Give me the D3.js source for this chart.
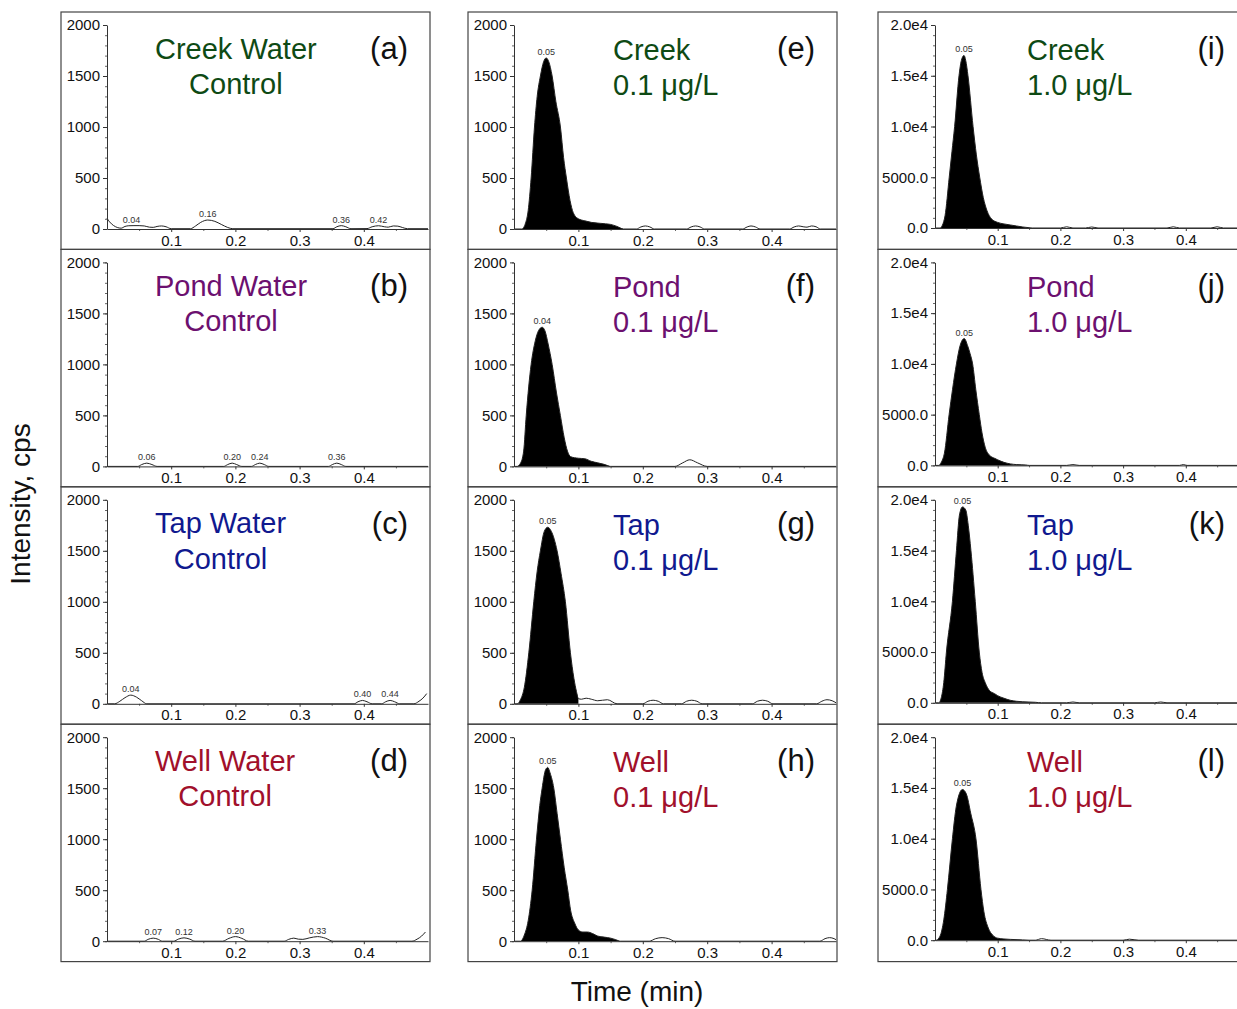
<!DOCTYPE html>
<html>
<head>
<meta charset="utf-8">
<script src="https://cdn.jsdelivr.net/npm/d3@7"></script>
<style>
body { margin: 0; background: #fff; }
text { font-family: Arial, "Liberation Sans", sans-serif; }
</style>
</head>
<body>
<svg id="chrom"></svg>
<script>
// chromatogram traces: [time (min), intensity (cps)]
const creekControl = [[0,105],[0.004,70],[0.01,35],[0.016,15],[0.022,8],[0.028,25],[0.034,32],[0.042,33],[0.05,33],[0.058,30],[0.066,18],[0.072,16],[0.078,25],[0.085,30],[0.092,22],[0.1,3],[0.13,3],[0.138,30],[0.146,65],[0.157,88],[0.168,75],[0.178,45],[0.188,15],[0.196,3],[0.352,3],[0.358,22],[0.365,33],[0.372,22],[0.38,3],[0.405,4],[0.413,22],[0.423,32],[0.432,22],[0.438,18],[0.446,30],[0.453,28],[0.46,15],[0.468,3],[0.5,3]];
const pondControl = [[0,0],[0.048,0],[0.054,18],[0.062,32],[0.07,18],[0.078,0],[0.182,0],[0.188,18],[0.195,32],[0.202,18],[0.21,0],[0.225,0],[0.231,18],[0.238,32],[0.245,18],[0.252,0],[0.345,0],[0.351,18],[0.358,32],[0.365,18],[0.372,0],[0.5,0]];
const tapControl = [[0,0],[0.012,0],[0.02,25],[0.028,60],[0.037,85],[0.046,65],[0.054,30],[0.062,0],[0.385,0],[0.391,20],[0.398,33],[0.405,20],[0.413,0],[0.428,0],[0.434,20],[0.441,33],[0.448,20],[0.456,0],[0.478,0],[0.486,25],[0.492,55],[0.498,100]];
const wellControl = [[0,0],[0.058,0],[0.064,18],[0.072,30],[0.08,18],[0.086,0],[0.104,0],[0.111,20],[0.12,33],[0.129,20],[0.137,0],[0.18,0],[0.19,28],[0.2,45],[0.21,28],[0.22,0],[0.276,0],[0.283,18],[0.291,30],[0.298,20],[0.305,18],[0.315,32],[0.328,45],[0.34,30],[0.352,0],[0.475,0],[0.483,20],[0.49,50],[0.496,90]];

const creekLow = [[0,0],[0.012,0],[0.018,60],[0.022,180],[0.0266,500],[0.0318,1000],[0.036,1300],[0.041,1500],[0.046,1640],[0.05,1677],[0.054,1640],[0.0592,1500],[0.065,1250],[0.0721,1000],[0.077,700],[0.0814,500],[0.087,280],[0.092,160],[0.1,100],[0.11,80],[0.12,65],[0.135,55],[0.15,45],[0.16,25],[0.17,0],[0.19,0],[0.197,20],[0.204,30],[0.211,20],[0.218,0],[0.268,0],[0.275,20],[0.282,30],[0.289,20],[0.296,0],[0.355,0],[0.362,20],[0.368,30],[0.375,20],[0.382,0],[0.428,0],[0.435,20],[0.442,30],[0.449,22],[0.455,18],[0.462,30],[0.469,22],[0.476,0],[0.5,0]];
const pondLow = [[0,0],[0.005,0],[0.01,30],[0.015,150],[0.019,500],[0.0266,1000],[0.033,1230],[0.038,1330],[0.0437,1364],[0.048,1330],[0.053,1200],[0.0592,1000],[0.066,720],[0.072,500],[0.078,280],[0.083,150],[0.088,95],[0.1,80],[0.11,75],[0.12,50],[0.13,35],[0.14,20],[0.15,0],[0.25,0],[0.262,35],[0.273,65],[0.285,35],[0.3,0],[0.5,0]];
const tapLow = [[0,0],[0.005,0],[0.01,40],[0.016,160],[0.023,500],[0.0307,1000],[0.036,1300],[0.041,1500],[0.047,1690],[0.0524,1731],[0.058,1690],[0.0669,1500],[0.073,1280],[0.0798,1000],[0.0876,500],[0.093,250],[0.097,120],[0.1,50],[0.105,45],[0.112,55],[0.12,45],[0.13,30],[0.145,40],[0.16,0],[0.2,0],[0.208,25],[0.216,35],[0.224,25],[0.232,0],[0.26,0],[0.268,25],[0.276,35],[0.284,25],[0.292,0],[0.37,0],[0.378,25],[0.386,35],[0.394,25],[0.402,0],[0.47,0],[0.478,25],[0.486,40],[0.494,30],[0.5,10]];
const wellLow = [[0,0],[0.01,0],[0.016,60],[0.022,200],[0.0282,500],[0.0349,1000],[0.04,1330],[0.0437,1500],[0.049,1680],[0.0524,1704],[0.056,1650],[0.0618,1500],[0.067,1250],[0.0721,1000],[0.078,720],[0.0835,500],[0.088,300],[0.094,180],[0.1,110],[0.107,90],[0.114,90],[0.122,75],[0.13,50],[0.14,40],[0.15,30],[0.158,15],[0.165,0],[0.21,0],[0.22,25],[0.23,35],[0.24,25],[0.25,0],[0.475,0],[0.483,25],[0.49,35],[0.497,25],[0.5,15]];

const creekHigh = [[0,0],[0.008,0],[0.012,300],[0.016,1200],[0.0227,5000],[0.027,7500],[0.0313,10000],[0.0383,15000],[0.042,16500],[0.0463,17000],[0.049,16500],[0.0526,15000],[0.0607,10000],[0.066,7200],[0.0713,5000],[0.077,3000],[0.083,1700],[0.09,900],[0.1,550],[0.11,400],[0.12,300],[0.13,200],[0.14,100],[0.15,30],[0.155,0],[0.2,0],[0.21,120],[0.22,0],[0.24,0],[0.25,100],[0.26,0],[0.37,0],[0.38,120],[0.39,0],[0.44,0],[0.45,120],[0.46,0],[0.5,0]];
const pondHigh = [[0,0],[0.006,0],[0.01,300],[0.015,1200],[0.0225,5000],[0.028,7500],[0.0342,10000],[0.04,11800],[0.0466,12500],[0.052,11800],[0.056,11000],[0.06,10000],[0.065,7500],[0.0706,5000],[0.075,3200],[0.08,1800],[0.087,1000],[0.095,700],[0.1,550],[0.11,300],[0.12,150],[0.13,80],[0.145,40],[0.15,0],[0.21,0],[0.22,80],[0.23,0],[0.39,0],[0.396,80],[0.402,0],[0.5,0]];
const tapHigh = [[0,0],[0.006,0],[0.01,500],[0.014,2000],[0.0182,5000],[0.0278,10000],[0.0342,15000],[0.039,18500],[0.0438,19300],[0.049,19000],[0.053,17500],[0.0573,15000],[0.0642,10000],[0.0706,5000],[0.075,3000],[0.08,2000],[0.087,1200],[0.095,900],[0.1,700],[0.11,450],[0.12,250],[0.13,150],[0.14,100],[0.16,50],[0.17,0],[0.21,0],[0.22,80],[0.23,0],[0.35,0],[0.36,80],[0.37,0],[0.5,0]];
const wellHigh = [[0,0],[0.002,0],[0.008,400],[0.014,2000],[0.0198,5000],[0.0278,10000],[0.034,13200],[0.0438,14850],[0.05,14400],[0.057,12500],[0.0653,10000],[0.0733,5000],[0.078,2800],[0.085,1200],[0.092,500],[0.1,200],[0.11,120],[0.12,80],[0.14,30],[0.15,0],[0.16,0],[0.17,150],[0.185,0],[0.3,0],[0.31,100],[0.325,0],[0.5,0]];

// retention-time labels printed above the peaks: [time, label]
const creekControlPeaks = [[0.038,'0.04'],[0.157,'0.16'],[0.365,'0.36'],[0.423,'0.42']];
const pondControlPeaks = [[0.062,'0.06'],[0.195,'0.20'],[0.238,'0.24'],[0.358,'0.36']];
const tapControlPeaks = [[0.037,'0.04'],[0.398,'0.40'],[0.441,'0.44']];
const wellControlPeaks = [[0.072,'0.07'],[0.12,'0.12'],[0.2,'0.20'],[0.328,'0.33']];
const lowPeaks = [[[0.05,'0.05']], [[0.0437,'0.04']], [[0.0524,'0.05']], [[0.0524,'0.05']]];
const highPeaks = [[[0.0463,'0.05']], [[0.0466,'0.05']], [[0.0438,'0.05']], [[0.0438,'0.05']]];

// where the black-filled peak ends (min)
const lowFillEnd = [0.17, 0.15, 0.1, 0.165];
const highFillEnd = [0.155, 0.15, 0.17, 0.15];

const waterTypes = ['Creek', 'Pond', 'Tap', 'Well'];
const concLabels = ['Control', '0.1 μg/L', '1.0 μg/L'];
const xTicks = [0.1, 0.2, 0.3, 0.4];
const lowYTicks = [0, 500, 1000, 1500, 2000];
const highYTicks = [0, 5000, 10000, 15000, 20000];
const highYTickLabels = ['0.0', '5000.0', '1.0e4', '1.5e4', '2.0e4'];

// ---- layout ----
const size = {w: 1237, h: 1009};
const typeColors = ['#0e4a14', '#6c106f', '#10198f', '#a1102b'];
const cols = [
    {x: 61, w: 369, axisX: 46, pxPerMin: 642, zeroY: 217, yMax: 2000},
    {x: 468, w: 369, axisX: 46, pxPerMin: 644, zeroY: 217, yMax: 2000},
    {x: 878, w: 370, axisX: 57, pxPerMin: 627, zeroY: 216, yMax: 20000}
];
const rowTop = i => 12 + i * 237.4;
const rowH = 237.4;

const svg = d3.select('svg#chrom')
    .attr('width', size.w)
    .attr('height', size.h);

const traces = [
    [creekControl, pondControl, tapControl, wellControl],
    [creekLow, pondLow, tapLow, wellLow],
    [creekHigh, pondHigh, tapHigh, wellHigh]
];
const peaks = [
    [creekControlPeaks, pondControlPeaks, tapControlPeaks, wellControlPeaks],
    lowPeaks,
    highPeaks
];
const fillEnds = [[0, 0, 0, 0], lowFillEnd, highFillEnd];

cols.forEach((col, c) => {
    waterTypes.forEach((type, r) => {
        drawPanel(col, c, r, type);
    });
});

function drawPanel(col, c, r, type) {
    const g = svg.append('g')
        .attr('transform', `translate(${col.x}, ${rowTop(r)})`);

    g.append('rect')
        .attr('width', col.w)
        .attr('height', rowH)
        .attr('fill', 'none')
        .attr('stroke', '#444')
        .attr('stroke-width', 1.2);

    const x = d3.scaleLinear()
        .domain([0, 0.5])
        .range([col.axisX, col.axisX + 0.5 * col.pxPerMin]);
    const y = d3.scaleLinear()
        .domain([0, col.yMax])
        .range([col.zeroY, 13]);

    const data = traces[c][r];
    const fillEnd = fillEnds[c][r];

    // filled main peak
    if (fillEnd > 0) {
        const area = d3.area()
            .x(d => x(d[0]))
            .y0(y(0))
            .y1(d => y(d[1]))
            .curve(d3.curveMonotoneX);
        g.append('path')
            .datum(data.filter(d => d[0] <= fillEnd))
            .attr('d', area)
            .attr('fill', '#000');
    }

    const line = d3.line()
        .x(d => x(d[0]))
        .y(d => y(d[1]))
        .curve(d3.curveMonotoneX);
    g.append('path')
        .datum(data)
        .attr('d', line)
        .attr('fill', 'none')
        .attr('stroke', '#222')
        .attr('stroke-width', 1);

    // minor ticks
    const yStep = col.yMax / 20;
    g.append('g')
        .attr('transform', `translate(${col.axisX}, 0)`)
        .call(d3.axisLeft(y).tickValues(d3.range(0, col.yMax + 1, yStep)).tickSize(2).tickFormat(''))
        .call(a => a.select('.domain').remove())
        .selectAll('line').attr('stroke', '#666');
    g.append('g')
        .attr('transform', `translate(0, ${col.zeroY})`)
        .call(d3.axisBottom(x).tickValues([0.05, 0.15, 0.25, 0.35, 0.45]).tickSize(2).tickFormat(''))
        .call(a => a.select('.domain').remove())
        .selectAll('line').attr('stroke', '#666');

    // y axis
    const yAxis = d3.axisLeft(y)
        .tickValues(c === 2 ? highYTicks : lowYTicks)
        .tickSize(4)
        .tickSizeOuter(0)
        .tickPadding(3)
        .tickFormat((d, i) => c === 2 ? highYTickLabels[i] : d);
    const ya = g.append('g')
        .attr('transform', `translate(${col.axisX}, 0)`)
        .call(yAxis);
    ya.attr('font-size', 15);
    ya.selectAll('text').attr('fill', '#111');
    ya.selectAll('path, line').attr('stroke', '#333');

    // x axis
    const xAxis = d3.axisBottom(x)
        .tickValues(xTicks)
        .tickSize(3)
        .tickSizeOuter(0)
        .tickPadding(3)
        .tickFormat(d3.format('.1f'));
    const xa = g.append('g')
        .attr('transform', `translate(0, ${col.zeroY})`)
        .call(xAxis);
    xa.attr('font-size', 15);
    xa.selectAll('text').attr('fill', '#111');
    xa.selectAll('path, line').attr('stroke', '#333');

    // peak time labels
    g.selectAll('text.peak')
        .data(peaks[c][r])
        .join('text')
        .classed('peak', true)
        .attr('x', d => x(d[0]))
        .attr('y', d => {
            const top = d3.max(data.filter(p => Math.abs(p[0] - d[0]) < 0.01), p => p[1]);
            return y(top) - 3;
        })
        .attr('text-anchor', 'middle')
        .attr('font-size', 9)
        .attr('fill', '#333')
        .text(d => d[1]);

    // sample title
    const color = typeColors[r];
    if (c === 0) {
        const t1 = g.append('text')
            .attr('x', 94)
            .attr('y', 46.5)
            .attr('font-size', 29)
            .attr('fill', color)
            .text(`${type} Water`);
        const w1 = t1.node().getComputedTextLength();
        g.append('text')
            .attr('x', 94 + w1 / 2)
            .attr('y', 82)
            .attr('text-anchor', 'middle')
            .attr('font-size', 29)
            .attr('fill', color)
            .text(concLabels[0]);
    } else {
        const tx = c === 1 ? 145 : 149;
        g.append('text')
            .attr('x', tx)
            .attr('y', 48)
            .attr('font-size', 29)
            .attr('fill', color)
            .text(type);
        g.append('text')
            .attr('x', tx)
            .attr('y', 83)
            .attr('font-size', 29)
            .attr('fill', color)
            .text(concLabels[c]);
    }

    // panel letter
    g.append('text')
        .attr('x', 347)
        .attr('y', 47)
        .attr('text-anchor', 'end')
        .attr('font-size', 31)
        .attr('fill', '#111')
        .text(`(${'abcdefghijkl'[c * 4 + r]})`);
}

// axis titles
svg.append('text')
    .attr('transform', 'translate(30, 504) rotate(-90)')
    .attr('text-anchor', 'middle')
    .attr('font-size', 28)
    .attr('fill', '#111')
    .text('Intensity, cps');

svg.append('text')
    .attr('x', 637)
    .attr('y', 1001)
    .attr('text-anchor', 'middle')
    .attr('font-size', 28)
    .attr('fill', '#111')
    .text('Time (min)');
</script>
</body>
</html>
